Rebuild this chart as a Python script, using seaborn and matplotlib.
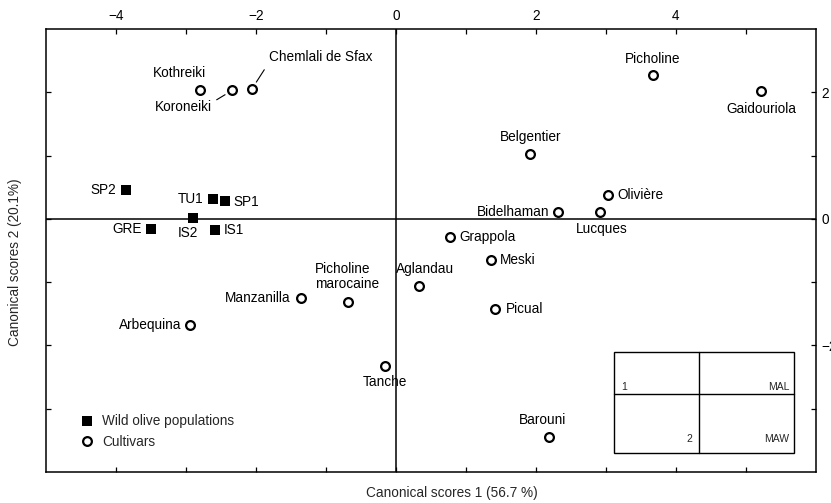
import matplotlib
matplotlib.use("Agg")
import matplotlib.pyplot as plt
import seaborn as sns
import pandas as pd
from matplotlib.patches import Rectangle
from matplotlib.lines import Line2D
from matplotlib.ticker import FixedLocator

# ---------------- data ----------------
cultivar_names = ["Kothreiki", "Koroneiki", "Chemlali de Sfax", "Picholine", "Gaidouriola",
                  "Belgentier", "Olivière", "Bidelhaman", "Lucques", "Grappola", "Meski",
                  "Aglandau", "Picual", "Picholine\nmarocaine", "Manzanilla", "Arbequina",
                  "Tanche", "Barouni"]
cultivar_x = [-2.80, -2.34, -2.06, 3.67, 5.22, 1.92, 3.03, 2.32, 2.92, 0.77, 1.35,
              0.33, 1.42, -0.69, -1.36, -2.94, -0.16, 2.18]
cultivar_y = [2.03, 2.03, 2.05, 2.27, 2.02, 1.03, 0.38, 0.11, 0.11, -0.29, -0.65,
              -1.06, -1.43, -1.32, -1.25, -1.67, -2.32, -3.44]

wild_names = ["SP2", "TU1", "SP1", "GRE", "IS2", "IS1"]
wild_x = [-3.86, -2.62, -2.45, -3.50, -2.90, -2.58]
wild_y = [0.46, 0.32, 0.29, -0.16, 0.02, -0.17]

legend_labels = ["Wild olive populations", "Cultivars"]
x_label = "Canonical scores 1 (56.7 %)"
y_label = "Canonical scores 2 (20.1%)"
x_major = [-4, -2, 0, 2, 4]
x_minor = [-3, -1, 1, 3, 5]
y_major = [-2, 0, 2]
y_minor = [-3, -1, 1]
inset_texts = ["1", "MAL", "2", "MAW"]

# label placement (offset pixels, ha, va)
label_pos = {
    "Kothreiki": (-21, 17, "center", "center"),
    "Koroneiki": (-20, -17, "right", "center"),
    "Chemlali de Sfax": (17, 32, "left", "center"),
    "Picholine": (0, 16, "center", "center"),
    "Gaidouriola": (0, -18, "center", "center"),
    "Belgentier": (0, 17, "center", "center"),
    "Olivière": (9, 0, "left", "center"),
    "Bidelhaman": (-9, 0, "right", "center"),
    "Lucques": (1, -17, "center", "center"),
    "Grappola": (9, 0, "left", "center"),
    "Meski": (9, 0, "left", "center"),
    "Aglandau": (6, 17, "center", "center"),
    "Picual": (10, 0, "left", "center"),
    "Picholine\nmarocaine": (-1, 26, "center", "center"),
    "Manzanilla": (-10, 0, "right", "center"),
    "Arbequina": (-9, 0, "right", "center"),
    "Tanche": (0, -16, "center", "center"),
    "Barouni": (-6, 17, "center", "center"),
    "SP2": (-10, 0, "right", "center"),
    "TU1": (-9, 0, "right", "center"),
    "SP1": (9, -1, "left", "center"),
    "GRE": (-9, 0, "right", "center"),
    "IS2": (-5, -15, "center", "center"),
    "IS1": (8, 0, "left", "center"),
}

# ---------------- style ----------------
sns.set_style("ticks")
plt.rcParams["font.family"] = ["Liberation Sans", "DejaVu Sans"]
plt.rcParams["font.size"] = 9.8
plt.rcParams["axes.linewidth"] = 1.1

fig = plt.figure(figsize=(8.31, 5.03), dpi=100)
ax = fig.add_axes([46 / 831, 1 - 472 / 503, 770 / 831, 443 / 503])

wild = pd.DataFrame({"name": wild_names, "x": wild_x, "y": wild_y})
cult = pd.DataFrame({"name": cultivar_names, "x": cultivar_x, "y": cultivar_y})

ax.axhline(0, color="black", lw=1.1, zorder=1)
ax.axvline(0, color="black", lw=1.1, zorder=1)

sns.scatterplot(data=wild, x="x", y="y", marker="s", s=44, color="black",
                edgecolor="black", linewidth=0, ax=ax, zorder=3, legend=False)
sns.scatterplot(data=cult, x="x", y="y", marker="o", s=40, color="white",
                edgecolor="black", linewidth=1.6, ax=ax, zorder=3, legend=False)

ax.set_xlim(-5, 6)
ax.set_ylim(-4, 3)
ax.xaxis.set_major_locator(FixedLocator(x_major))
ax.xaxis.set_minor_locator(FixedLocator(x_minor))
ax.yaxis.set_major_locator(FixedLocator(y_major))
ax.yaxis.set_minor_locator(FixedLocator(y_minor))
ax.tick_params(axis="both", which="both", direction="in", length=3.8, width=0.9,
               top=True, bottom=True, left=True, right=True,
               labeltop=True, labelbottom=False, labelleft=False, labelright=True,
               pad=4, labelsize=9.8, colors="black")
ax.set_xlabel("")
ax.set_ylabel("")
for s in ax.spines.values():
    s.set_color("black")

# point labels
for df in (cult, wild):
    for _, r in df.iterrows():
        dx, dy, ha, va = label_pos[r["name"]]
        kw = {}
        if r["name"] == "Koroneiki":
            kw["arrowprops"] = dict(arrowstyle="-", color="black", lw=0.8,
                                    relpos=(1.0, 0.85), shrinkA=1, shrinkB=6)
        if r["name"] == "Chemlali de Sfax":
            kw["arrowprops"] = dict(arrowstyle="-", color="black", lw=0.8,
                                    relpos=(0.0, 0.1), shrinkA=2, shrinkB=6)
        ax.annotate(r["name"], (r["x"], r["y"]), xytext=(dx, dy),
                    textcoords="offset pixels", ha=ha, va=va,
                    multialignment="left", fontsize=9.8, color="black",
                    linespacing=1.15, **kw)

# legend
handles = [
    Line2D([], [], marker="s", ls="none", color="black", markersize=6.5, mew=0),
    Line2D([], [], marker="o", ls="none", markerfacecolor="white",
           markeredgecolor="black", markersize=6.3, mew=1.6),
]
ax.legend(handles, legend_labels, loc="center left",
          bbox_to_anchor=(0.0444, 0.0914), frameon=False, borderpad=0,
          borderaxespad=0, handlelength=1.0, handletextpad=0.6,
          labelspacing=0.45, fontsize=9.8)

# inset diagram
x0, x1, xm = 0.738, 0.971, 0.848
y0, y1, ym = 0.043, 0.271, 0.176
ax.add_patch(Rectangle((x0, y0), x1 - x0, y1 - y0, transform=ax.transAxes,
                       fill=False, ec="black", lw=1.0, zorder=4))
ax.plot([xm, xm], [y0, y1], transform=ax.transAxes, color="black", lw=1.0, zorder=4)
ax.plot([x0, x1], [ym, ym], transform=ax.transAxes, color="black", lw=1.0, zorder=4)
ax.text(0.747, 0.185, inset_texts[0], transform=ax.transAxes, fontsize=7.5, ha="left", va="baseline")
ax.text(0.965, 0.185, inset_texts[1], transform=ax.transAxes, fontsize=7.5, ha="right", va="baseline")
ax.text(0.840, 0.0677, inset_texts[2], transform=ax.transAxes, fontsize=7.5, ha="right", va="baseline")
ax.text(0.965, 0.0677, inset_texts[3], transform=ax.transAxes, fontsize=7.5, ha="right", va="baseline")

# axis labels
fig.text(452 / 831, 1 - 493 / 503, x_label, ha="center", va="center", fontsize=9.8)
fig.text(15 / 831, 1 - 262 / 503, y_label, ha="center", va="center", rotation=90, fontsize=9.8)

fig.savefig("out.png", dpi=100)
